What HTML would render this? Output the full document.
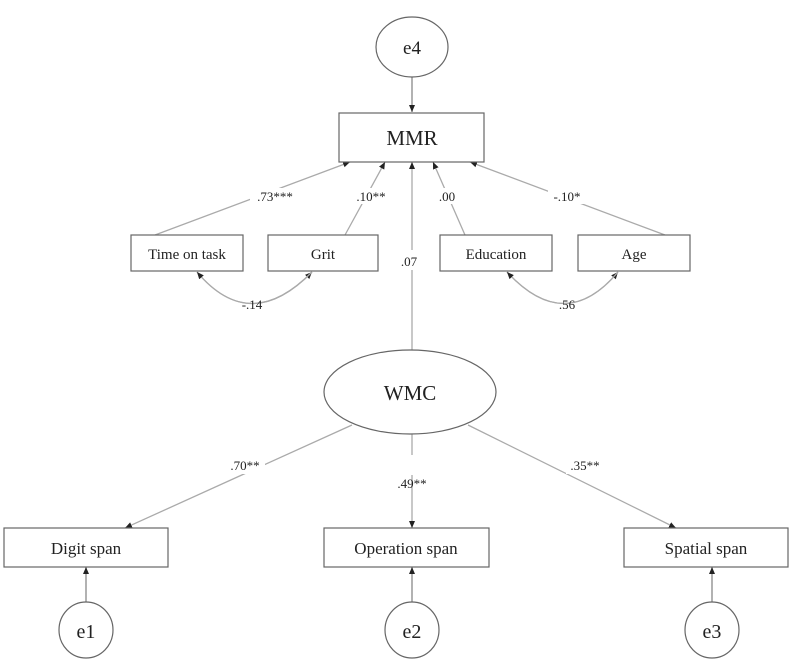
<!DOCTYPE html>
<html><head><style>html,body{margin:0;padding:0;background:#fff;}</style></head>
<body>
<svg width="790" height="659" viewBox="0 0 790 659" xmlns="http://www.w3.org/2000/svg" font-family="Liberation Serif, serif">
<defs><marker id="a" markerWidth="8" markerHeight="8" refX="7" refY="4" orient="auto" markerUnits="userSpaceOnUse"><path d="M0,1 L7,4 L0,7 z" fill="#222"/></marker></defs>
<g fill="none" stroke="#aaa" stroke-width="1.3">
<line x1="412" y1="77" x2="412" y2="112" stroke="#888" marker-end="url(#a)"/>
<line x1="155" y1="235" x2="350" y2="162" marker-end="url(#a)"/>
<line x1="345" y1="235" x2="385" y2="162" marker-end="url(#a)"/>
<line x1="412" y1="350" x2="412" y2="162" marker-end="url(#a)"/>
<line x1="465" y1="235" x2="433" y2="162" marker-end="url(#a)"/>
<line x1="665" y1="235" x2="470" y2="162" marker-end="url(#a)"/>
<path d="M197,272 Q250,335 312,272" marker-end="url(#a)"/>
<path d="M312,272 Q250,335 197,272" marker-end="url(#a)"/>
<path d="M507,272 Q565,335 618,272" marker-end="url(#a)"/>
<path d="M618,272 Q565,335 507,272" marker-end="url(#a)"/>
<line x1="352" y1="425" x2="125" y2="528" marker-end="url(#a)"/>
<line x1="412" y1="434" x2="412" y2="528" marker-end="url(#a)"/>
<line x1="468" y1="425" x2="676" y2="528" marker-end="url(#a)"/>
<line x1="86" y1="602" x2="86" y2="567" stroke="#888" marker-end="url(#a)"/>
<line x1="412" y1="602" x2="412" y2="567" stroke="#888" marker-end="url(#a)"/>
<line x1="712" y1="602" x2="712" y2="567" stroke="#888" marker-end="url(#a)"/>
</g>
<g fill="#fff" stroke="#666" stroke-width="1.2">
<ellipse cx="412" cy="47" rx="36" ry="30"/>
<rect x="339" y="113" width="145" height="49"/>
<rect x="131" y="235" width="112" height="36"/>
<rect x="268" y="235" width="110" height="36"/>
<rect x="440" y="235" width="112" height="36"/>
<rect x="578" y="235" width="112" height="36"/>
<ellipse cx="410" cy="392" rx="86" ry="42"/>
<rect x="4" y="528" width="164" height="39"/>
<rect x="324" y="528" width="165" height="39"/>
<rect x="624" y="528" width="164" height="39"/>
<ellipse cx="86" cy="630" rx="27" ry="28"/>
<ellipse cx="412" cy="630" rx="27" ry="28"/>
<ellipse cx="712" cy="630" rx="27" ry="28"/>
</g>
<rect x="250" y="188" width="50" height="16" fill="#fff"/>
<rect x="350" y="188" width="42" height="16" fill="#fff"/>
<rect x="432" y="188" width="30" height="16" fill="#fff"/>
<rect x="548" y="188" width="40" height="16" fill="#fff"/>
<rect x="396" y="250" width="26" height="20" fill="#fff"/>
<rect x="225" y="458" width="40" height="16" fill="#fff"/>
<rect x="390" y="455" width="44" height="20" fill="#fff"/>
<rect x="566" y="458" width="40" height="16" fill="#fff"/>
<g fill="#222" text-anchor="middle">
<text x="412" y="54" font-size="19">e4</text>
<text x="412" y="145" font-size="21">MMR</text>
<text x="187" y="259" font-size="15">Time on task</text>
<text x="323" y="259" font-size="15">Grit</text>
<text x="496" y="259" font-size="15">Education</text>
<text x="634" y="259" font-size="15">Age</text>
<text x="410" y="400" font-size="21">WMC</text>
<text x="86" y="554" font-size="17">Digit span</text>
<text x="406" y="554" font-size="17">Operation span</text>
<text x="706" y="554" font-size="17">Spatial span</text>
<text x="86" y="638" font-size="20">e1</text>
<text x="412" y="638" font-size="20">e2</text>
<text x="712" y="638" font-size="20">e3</text>
<g font-size="13">
<text x="275" y="201">.73***</text>
<text x="371" y="201">.10**</text>
<text x="447" y="201">.00</text>
<text x="567" y="201">-.10*</text>
<text x="409" y="266">.07</text>
<text x="252" y="309">-.14</text>
<text x="567" y="309">.56</text>
<text x="245" y="470">.70**</text>
<text x="412" y="488">.49**</text>
<text x="585" y="470">.35**</text>
</g>
</g>
</svg>
</body></html>
